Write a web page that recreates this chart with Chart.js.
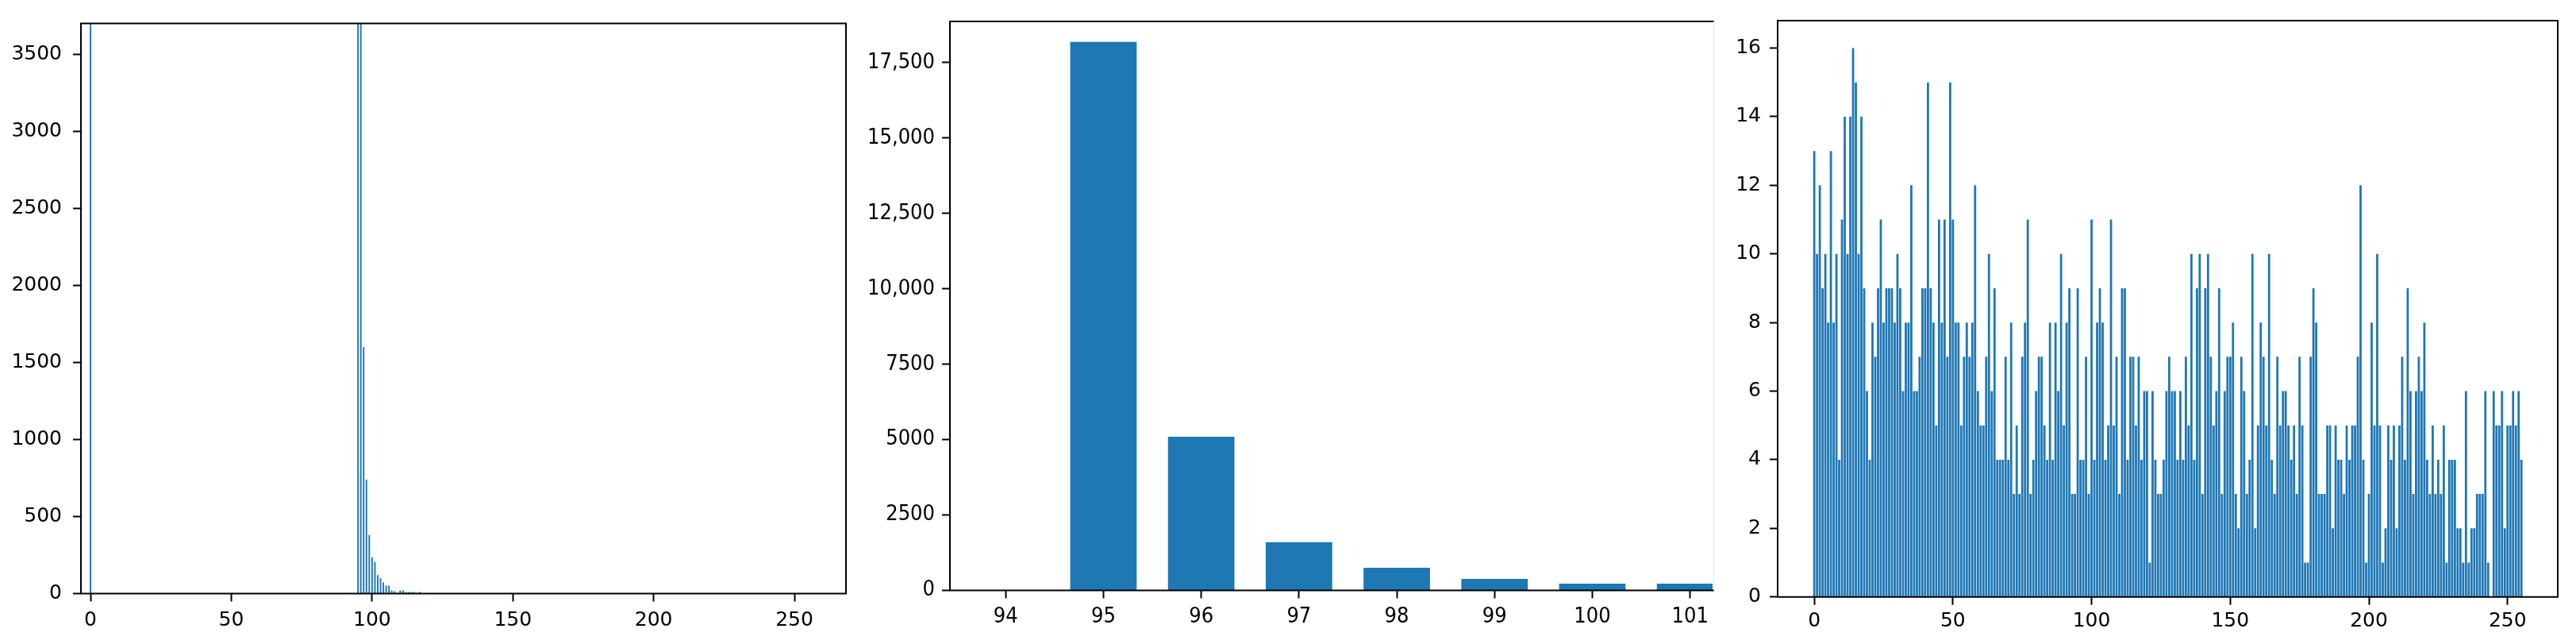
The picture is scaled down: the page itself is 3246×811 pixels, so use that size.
<!DOCTYPE html>
<html>
<head>
<meta charset="utf-8">
<script src="https://cdn.jsdelivr.net/npm/chart.js@4.4.1/dist/chart.umd.min.js"></script>
<style>
  html, body { margin: 0; padding: 0; background: #fff; }
  #wrap { position: relative; width: 3246px; height: 811px; overflow: hidden; }
  #wrap canvas { position: absolute; top: 0; }
</style>
</head>
<body>
<div id="wrap">
  <canvas id="chartFull" width="1090" height="811" style="left:0px"></canvas>
  <canvas id="chartZoom" width="1070" height="811" style="left:1090px"></canvas>
  <canvas id="chartNoise" width="1086" height="811" style="left:2160px"></canvas>
</div>
<script>
// grey levels 0..255 (x categories of the two full histograms)
const greyLevels = Array.from({ length: 256 }, (_, i) => i);

// left panel: histogram of the original image (count per grey level)
const fullCounts = [
  21000, 0, 0, 0, 0, 0, 0, 0, 0, 0, 0, 0, 0, 0, 0, 0,
  0, 0, 0, 0, 0, 0, 0, 0, 0, 0, 0, 0, 0, 0, 0, 0,
  0, 0, 0, 0, 0, 0, 0, 0, 0, 0, 0, 0, 0, 0, 0, 0,
  0, 0, 0, 0, 0, 0, 0, 0, 0, 0, 0, 0, 0, 0, 0, 0,
  0, 0, 0, 0, 0, 0, 0, 0, 0, 0, 0, 0, 0, 0, 0, 0,
  0, 0, 0, 0, 0, 0, 0, 0, 0, 0, 0, 0, 0, 0, 0, 18180,
  5090, 1600, 740, 380, 235, 205, 120, 100, 72, 51, 51, 20, 15, 5, 20, 20,
  10, 10, 10, 10, 5, 10, 0, 0, 0, 0, 0, 0, 0, 0, 0, 0,
  0, 0, 0, 0, 0, 0, 0, 0, 0, 0, 0, 0, 0, 0, 0, 0,
  0, 0, 0, 0, 0, 0, 0, 0, 0, 0, 0, 0, 0, 0, 0, 0,
  0, 0, 0, 0, 0, 0, 0, 0, 0, 0, 0, 0, 0, 0, 0, 0,
  0, 0, 0, 0, 0, 0, 0, 0, 0, 0, 0, 0, 0, 0, 0, 0,
  0, 0, 0, 0, 0, 0, 0, 0, 0, 0, 0, 0, 0, 0, 0, 0,
  0, 0, 0, 0, 0, 0, 0, 0, 0, 0, 0, 0, 0, 0, 0, 0,
  0, 0, 0, 0, 0, 0, 0, 0, 0, 0, 0, 0, 0, 0, 0, 0,
  0, 0, 0, 0, 0, 0, 0, 0, 0, 0, 0, 0, 0, 0, 0, 0
];

// middle panel: close-up on the peak
const zoomLevels = [94, 95, 96, 97, 98, 99, 100, 101];
const zoomCounts = [0, 18180, 5090, 1595, 750, 380, 218, 218];

// right panel: histogram of the noise image
const noiseCounts = [
  13, 10, 12, 9, 10, 8, 13, 8, 10, 4, 11, 14, 10, 14, 16, 15,
  10, 14, 9, 6, 4, 8, 7, 9, 11, 8, 9, 9, 9, 8, 10, 9,
  6, 8, 8, 12, 6, 6, 7, 9, 9, 15, 9, 8, 5, 11, 8, 11,
  7, 15, 11, 8, 8, 5, 7, 8, 7, 8, 12, 6, 5, 5, 7, 10,
  6, 9, 4, 4, 4, 7, 4, 8, 3, 5, 3, 7, 8, 11, 3, 4,
  6, 7, 7, 5, 4, 8, 4, 8, 6, 10, 5, 8, 9, 3, 3, 9,
  4, 4, 7, 3, 11, 4, 8, 9, 8, 4, 5, 11, 5, 7, 3, 9,
  9, 4, 7, 7, 5, 7, 4, 6, 6, 1, 6, 4, 3, 3, 4, 6,
  7, 6, 6, 4, 6, 4, 7, 5, 10, 4, 9, 10, 3, 9, 10, 7,
  5, 6, 9, 3, 6, 7, 7, 8, 3, 2, 7, 6, 3, 4, 10, 2,
  5, 8, 7, 5, 10, 4, 3, 7, 5, 6, 6, 5, 4, 5, 3, 7,
  5, 1, 1, 7, 9, 8, 3, 3, 3, 5, 5, 2, 5, 4, 4, 3,
  5, 4, 5, 5, 7, 12, 4, 1, 3, 8, 5, 10, 5, 1, 2, 5,
  4, 5, 2, 5, 7, 4, 9, 6, 3, 6, 7, 6, 8, 4, 3, 5,
  3, 4, 3, 5, 1, 4, 4, 4, 2, 2, 1, 6, 1, 2, 2, 3,
  3, 3, 6, 1, 0, 6, 5, 5, 6, 2, 5, 5, 6, 5, 6, 4
];

// tick labels
const levelTicks = [0, 50, 100, 150, 200, 250];
const fullCountTicks = [0, 500, 1000, 1500, 2000, 2500, 3000, 3500];
const zoomCountTicks = [0, 2500, 5000, 7500, 10000, 12500, 15000, 17500];
const noiseCountTicks = [0, 2, 4, 6, 8, 10, 12, 14, 16];

const barBlue = '#1f77b4';

// black box around the plot area, like the matplotlib spines
const axesFrame = {
  id: 'axesFrame',
  afterDraw(chart, args, opts) {
    let ctx = chart.ctx;
    let a = chart.chartArea;
    ctx.save();
    ctx.strokeStyle = '#000';
    ctx.lineWidth = 2;
    ctx.beginPath();
    if (opts.openRight) {
      ctx.moveTo(a.right + 2, a.top);
      ctx.lineTo(a.left, a.top);
      ctx.lineTo(a.left, a.bottom);
      ctx.lineTo(a.right + 2, a.bottom);
      ctx.stroke();
      ctx.strokeStyle = '#e4e4e4';
      ctx.lineWidth = 1;
      ctx.beginPath();
      ctx.moveTo(a.right + 1.5, a.top);
      ctx.lineTo(a.right + 1.5, a.bottom);
    } else {
      ctx.rect(a.left, a.top, a.right - a.left, a.bottom - a.top);
    }
    ctx.stroke();
    ctx.restore();
  }
};

function drawHistogram(canvasId, p) {
  let ctx = document.getElementById(canvasId);
  let font = { family: p.family, size: p.fontSize };
  let tickGrid = {
    drawOnChartArea: false,
    drawTicks: true,
    tickLength: 10,
    tickWidth: 2,
    tickColor: '#000'
  };

  return new Chart(ctx, {
    type: 'bar',
    data: {
      datasets: [{
        data: p.levels.map((lv, i) => ({ x: lv, y: p.counts[i] })),
        backgroundColor: barBlue,
        borderWidth: 0,
        categoryPercentage: 1,
        barPercentage: p.barPct,
        clip: 0
      }]
    },
    options: {
      responsive: false,
      animation: false,
      events: [],
      layout: { padding: p.padding },
      plugins: {
        legend: { display: false },
        tooltip: { enabled: false },
        axesFrame: { openRight: !!p.openRight }
      },
      scales: {
        x: {
          type: 'linear',
          min: p.xMin,
          max: p.xMax,
          offset: false,
          grid: Object.assign({ offset: false }, tickGrid),
          border: { display: false },
          afterBuildTicks: (scale) => { scale.ticks = p.xTicks.map(v => ({ value: v })); },
          afterFit: (scale) => { scale.height = p.xHeight; },
          ticks: {
            color: '#000',
            font: font,
            padding: p.xPad,
            maxRotation: 0,
            autoSkip: false,
            callback: (v) => String(v)
          }
        },
        y: {
          min: 0,
          max: p.yMax,
          grid: tickGrid,
          border: { display: false },
          afterBuildTicks: (scale) => { scale.ticks = p.yTicks.map(v => ({ value: v })); },
          afterFit: (scale) => { scale.width = p.yWidth; },
          ticks: {
            color: '#000',
            font: font,
            padding: p.yPad,
            autoSkip: false,
            callback: p.yFormat || ((v) => String(v))
          }
        }
      }
    },
    plugins: [axesFrame]
  });
}

drawHistogram('chartFull', {
  levels: greyLevels,
  counts: fullCounts,
  xTicks: levelTicks,
  yTicks: fullCountTicks,
  xMin: -3.4, xMax: 268.3, yMax: 3700,
  barPct: 0.55,
  family: "'DejaVu Sans', sans-serif", fontSize: 25,
  padding: { left: 0, top: 29.5, right: 24, bottom: 0 },
  yWidth: 102, xHeight: 63.5,
  yPad: 14, xPad: 9
});

drawHistogram('chartZoom', {
  levels: zoomLevels,
  counts: zoomCounts,
  xTicks: zoomLevels,
  yTicks: zoomCountTicks,
  xMin: 93.43, xMax: 101.23, yMax: 18860,
  barPct: 0.68,
  family: "'DejaVu Sans Condensed', 'DejaVu Sans', sans-serif", fontSize: 27,
  padding: { left: 0, top: 27, right: 2, bottom: 0 },
  yWidth: 107, xHeight: 67.6,
  yPad: 9, xPad: 7,
  openRight: true,
  yFormat: (v) => v >= 10000 ? v.toLocaleString('en-US') : String(v)
});

drawHistogram('chartNoise', {
  levels: greyLevels,
  counts: noiseCounts,
  xTicks: levelTicks,
  yTicks: noiseCountTicks,
  xMin: -13.2, xMax: 268.1, yMax: 16.8,
  barPct: 0.8,
  family: "'DejaVu Sans', sans-serif", fontSize: 25,
  padding: { left: 0, top: 21.7, right: 23, bottom: 0 },
  yWidth: 80, xHeight: 59.3,
  yPad: 11, xPad: 6
});
</script>
</body>
</html>
